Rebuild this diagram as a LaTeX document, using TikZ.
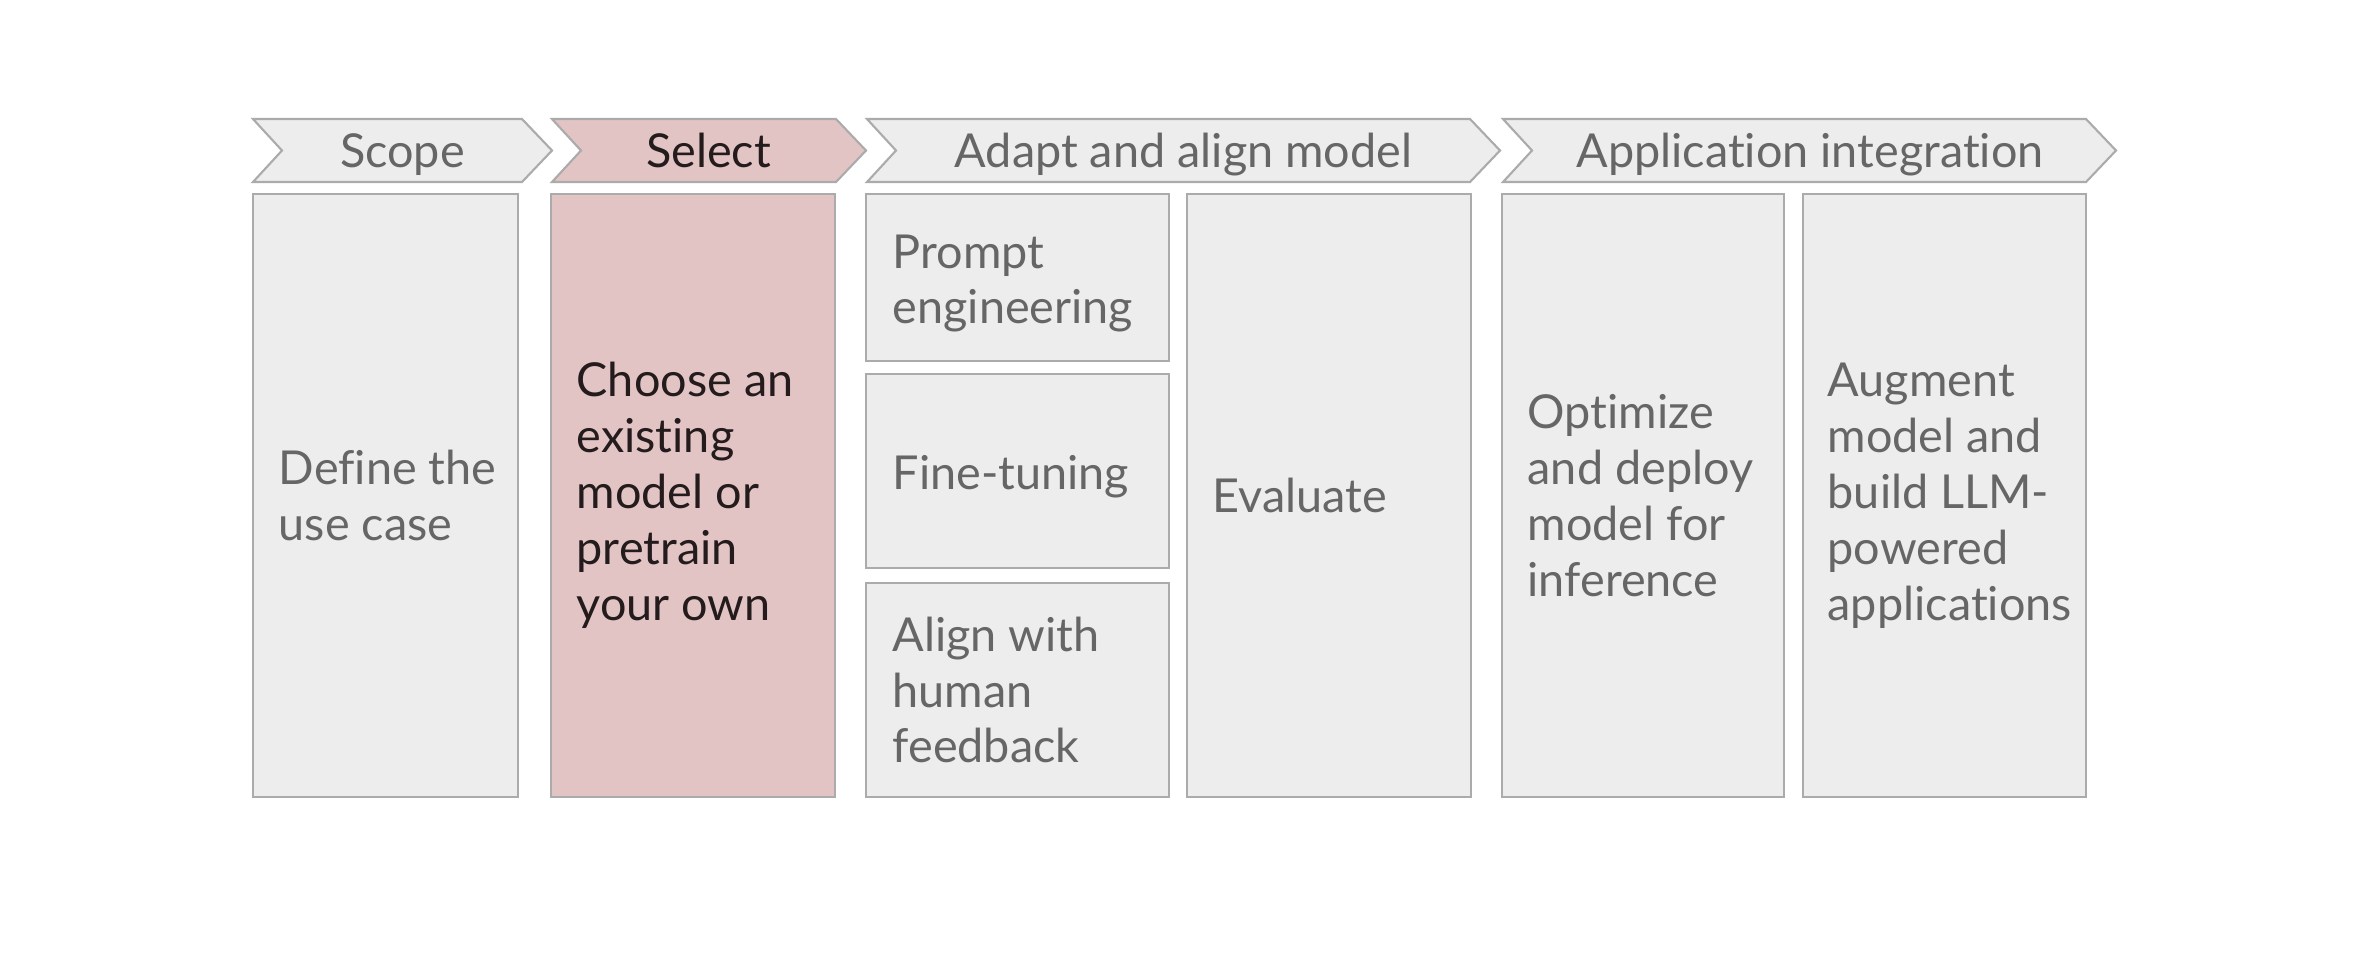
\documentclass[tikz,border=0pt]{standalone}
\usepackage{fontspec}
\setmainfont{Lato}[Ligatures=NoCommon]

\definecolor{panel}{HTML}{EDEDED}
\definecolor{edge}{HTML}{ABABAB}
\definecolor{rose}{HTML}{E3C4C5}
\definecolor{ink}{HTML}{666666}
\definecolor{inkdark}{HTML}{241B1C}

\tikzset{
  stage/.style={draw=edge, line width=0.6pt, fill=panel, line join=miter},
  stagesel/.style={stage, fill=rose},
  headtext/.style={anchor=base, inner sep=0pt, text=ink,
    font=\fontsize{13.3}{15.9}\selectfont},
  boxtext/.style={anchor=west, align=left, inner sep=0pt, text=ink,
    font=\fontsize{13.3}{15.9}\selectfont},
}

% chevron header: left edge x0, flat right end x1
\newcommand\stagehead[3]{%
  \path[#3] (#1,119) -- (#2,119) -- ++(30,31.5) -- (#2,182) -- (#1,182)
    -- ++(29,-31.5) -- cycle;}
% panel: left, top, right, bottom
\newcommand\stagepanel[5]{%
  \path[#5] (#1,#2) rectangle (#3,#4);}

\begin{document}
\begin{tikzpicture}[x=0.01cm, y=-0.01cm]
  \fill[white] (0,0) rectangle (2370,966);
  \useasboundingbox (0,0) rectangle (2370,966);

  % phase headers
  \stagehead{253}{522}{stage}
  \stagehead{552}{836}{stagesel}
  \stagehead{867}{1470}{stage}
  \stagehead{1503}{2086}{stage}

  \node[headtext] (hScope) at (402.5,167) {Scope};
  \node[headtext, text=inkdark] (hSelect) at (708.5,167) {Select};
  \node[headtext] (hAdapt) at (1183.5,167) {Adapt and align model};
  \node[headtext] (hApp) at (1810,167) {Application integration};

  % panels
  \stagepanel{253}{194}{518}{797}{stage}
  \stagepanel{551}{194}{835}{797}{stagesel}
  \stagepanel{866}{194}{1169}{361}{stage}
  \stagepanel{866}{374}{1169}{568}{stage}
  \stagepanel{866}{583}{1169}{797}{stage}
  \stagepanel{1187}{194}{1471}{797}{stage}
  \stagepanel{1502}{194}{1784}{797}{stage}
  \stagepanel{1803}{194}{2086}{797}{stage}

  % panel texts
  \node[boxtext] (tDefine) at (278,495.5) {Define the\\use case};
  \node[boxtext, text=inkdark] (tChoose) at (576,495.5)
    {Choose an\\existing\\model or\\pretrain\\your own};
  \node[boxtext] (tPrompt) at (892,283.5) {Prompt\\engineering};
  \node[boxtext] (tFine) at (892,477) {Fine-tuning};
  \node[boxtext] (tAlign) at (892,690) {Align with\\human\\feedback};
  \node[boxtext] (tEval) at (1212,495.5) {Evaluate};
  \node[boxtext] (tOpt) at (1527,495.5)
    {Optimize\\and deploy\\model for\\inference};
  \node[boxtext] (tAug) at (1827,495.5)
    {Augment\\model and\\build LLM-\\powered\\applications};
\end{tikzpicture}
\end{document}
